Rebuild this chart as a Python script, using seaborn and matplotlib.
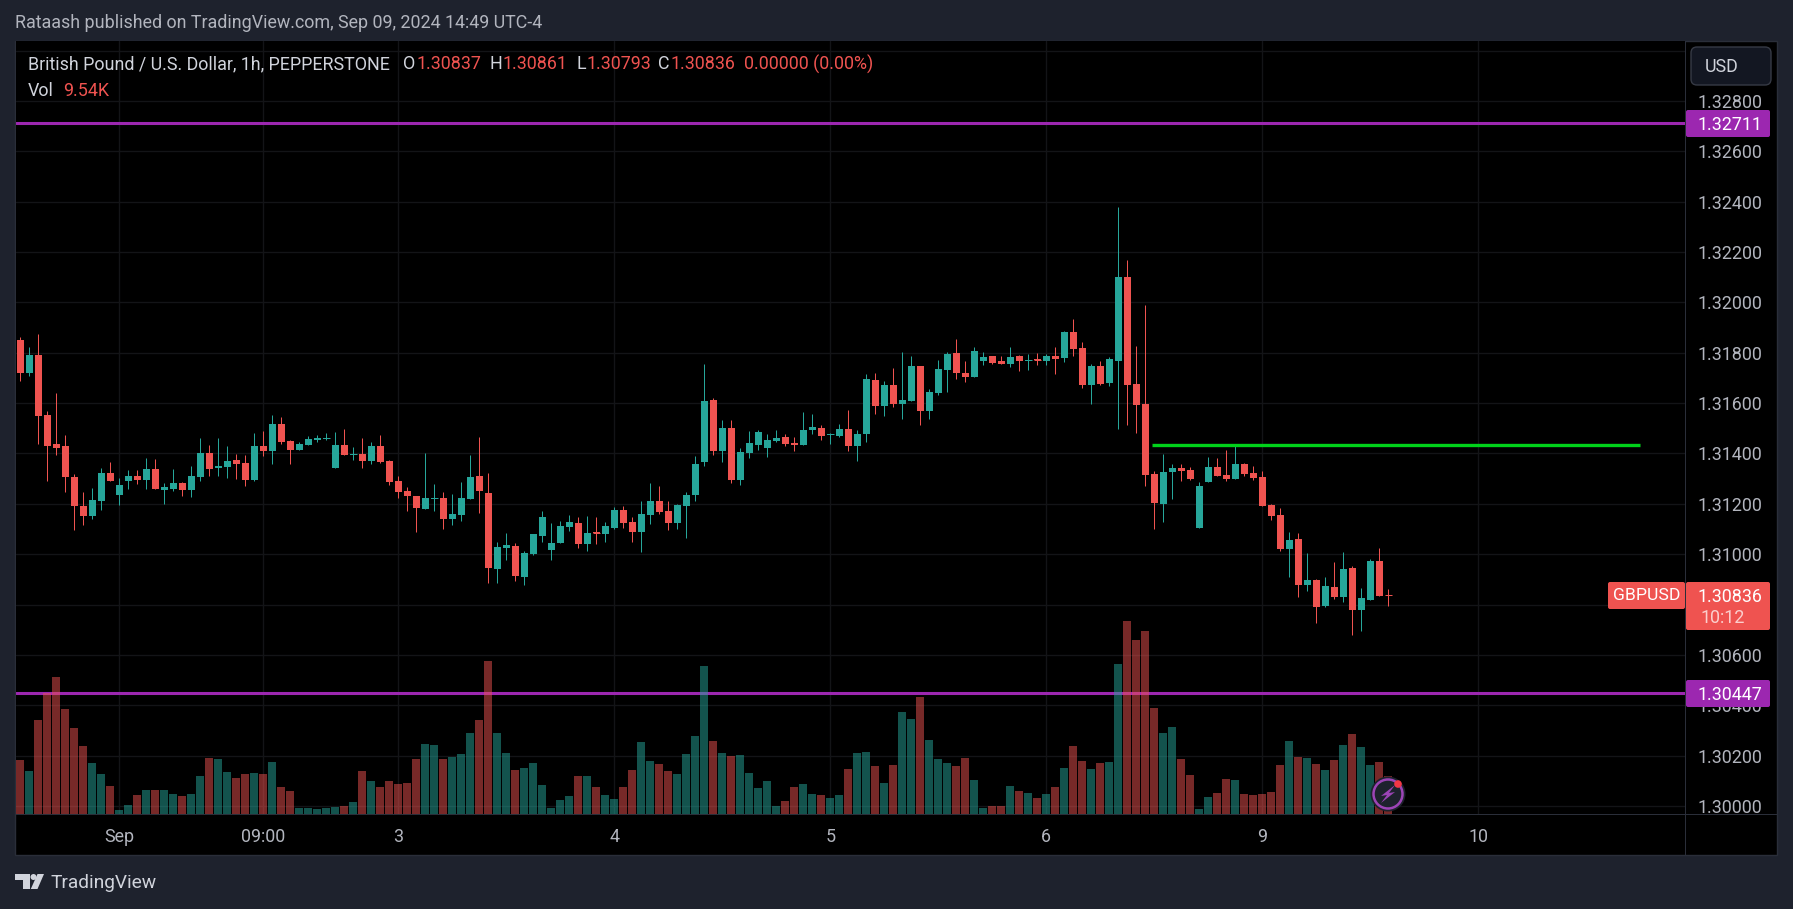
import numpy as np
import pandas as pd
import matplotlib
matplotlib.use("Agg")
import matplotlib.pyplot as plt
import seaborn as sns

from matplotlib.patches import Circle, FancyBboxPatch, Polygon, Rectangle
from matplotlib.transforms import IdentityTransform

opens = [
    1.31850, 1.31720, 1.31791, 1.31552, 1.31437, 1.31429, 1.31306, 1.31191, 1.31153, 1.31212,
    1.31322, 1.31236, 1.31292, 1.31310, 1.31294, 1.31338, 1.31254, 1.31258, 1.31282, 1.31254,
    1.31306, 1.31401, 1.31343, 1.31346, 1.31374, 1.31362, 1.31294, 1.31429, 1.31409, 1.31517,
    1.31449, 1.31413, 1.31433, 1.31453, 1.31457, 1.31342, 1.31433, 1.31393, 1.31397, 1.31370,
    1.31429, 1.31370, 1.31290, 1.31251, 1.31231, 1.31179, 1.31219, 1.31223, 1.31139, 1.31155,
    1.31219, 1.31310, 1.31243, 1.30941, 1.31024, 1.31032, 1.30909, 1.31000, 1.31072, 1.31016,
    1.31044, 1.31108, 1.31124, 1.31040, 1.31088, 1.31080, 1.31104, 1.31175, 1.31128, 1.31088,
    1.31155, 1.31211, 1.31171, 1.31124, 1.31191, 1.31235, 1.31366, 1.31612, 1.31410, 1.31501,
    1.31294, 1.31402, 1.31433, 1.31421, 1.31449, 1.31465, 1.31441, 1.31433, 1.31493, 1.31501,
    1.31473, 1.31469, 1.31497, 1.31429, 1.31477, 1.31691, 1.31588, 1.31672, 1.31596, 1.31608,
    1.31747, 1.31568, 1.31640, 1.31731, 1.31799, 1.31719, 1.31703, 1.31767, 1.31787, 1.31767,
    1.31755, 1.31787, 1.31767, 1.31775, 1.31767, 1.31787, 1.31779, 1.31882, 1.31819, 1.31672,
    1.31747, 1.31680, 1.31767, 1.32101, 1.31676, 1.31596, 1.31318, 1.31199, 1.31326, 1.31342,
    1.31334, 1.31104, 1.31286, 1.31346, 1.31314, 1.31298, 1.31358, 1.31322, 1.31306, 1.31195,
    1.31155, 1.31020, 1.31060, 1.30877, 1.30897, 1.30794, 1.30869, 1.30830, 1.30945, 1.30778,
    1.30818, 1.30973, 1.30837,
]
closes = [
    1.31720, 1.31791, 1.31550, 1.31431, 1.31423, 1.31307, 1.31192, 1.31153, 1.31215, 1.31322,
    1.31292, 1.31274, 1.31310, 1.31294, 1.31338, 1.31258, 1.31266, 1.31282, 1.31254, 1.31310,
    1.31401, 1.31338, 1.31350, 1.31370, 1.31358, 1.31294, 1.31429, 1.31409, 1.31517, 1.31445,
    1.31413, 1.31437, 1.31457, 1.31461, 1.31461, 1.31433, 1.31393, 1.31397, 1.31370, 1.31429,
    1.31366, 1.31286, 1.31247, 1.31231, 1.31183, 1.31223, 1.31223, 1.31139, 1.31159, 1.31223,
    1.31306, 1.31251, 1.30945, 1.31028, 1.31036, 1.30913, 1.31004, 1.31080, 1.31147, 1.31044,
    1.31112, 1.31128, 1.31040, 1.31084, 1.31084, 1.31112, 1.31175, 1.31124, 1.31088, 1.31159,
    1.31211, 1.31167, 1.31124, 1.31195, 1.31235, 1.31358, 1.31608, 1.31410, 1.31501, 1.31294,
    1.31406, 1.31441, 1.31485, 1.31453, 1.31461, 1.31437, 1.31433, 1.31493, 1.31505, 1.31469,
    1.31477, 1.31497, 1.31429, 1.31477, 1.31695, 1.31588, 1.31672, 1.31596, 1.31612, 1.31747,
    1.31568, 1.31644, 1.31735, 1.31795, 1.31719, 1.31703, 1.31807, 1.31783, 1.31759, 1.31755,
    1.31783, 1.31767, 1.31771, 1.31771, 1.31787, 1.31775, 1.31882, 1.31815, 1.31672, 1.31747,
    1.31676, 1.31775, 1.32101, 1.31672, 1.31592, 1.31314, 1.31203, 1.31326, 1.31342, 1.31330,
    1.31298, 1.31271, 1.31346, 1.31310, 1.31298, 1.31358, 1.31318, 1.31302, 1.31191, 1.31151,
    1.31020, 1.31056, 1.30877, 1.30897, 1.30790, 1.30873, 1.30830, 1.30941, 1.30778, 1.30826,
    1.30973, 1.30834, 1.30836,
]
highs = [
    1.31862, 1.31822, 1.31874, 1.31568, 1.31640, 1.31473, 1.31318, 1.31247, 1.31262, 1.31342,
    1.31366, 1.31302, 1.31334, 1.31334, 1.31382, 1.31378, 1.31282, 1.31338, 1.31286, 1.31350,
    1.31461, 1.31433, 1.31461, 1.31429, 1.31397, 1.31393, 1.31480, 1.31489, 1.31552, 1.31544,
    1.31453, 1.31445, 1.31469, 1.31473, 1.31481, 1.31485, 1.31497, 1.31425, 1.31461, 1.31445,
    1.31473, 1.31374, 1.31310, 1.31266, 1.31231, 1.31401, 1.31278, 1.31247, 1.31239, 1.31285,
    1.31394, 1.31465, 1.31322, 1.31048, 1.31084, 1.31044, 1.31012, 1.31080, 1.31171, 1.31124,
    1.31132, 1.31155, 1.31147, 1.31151, 1.31147, 1.31128, 1.31187, 1.31191, 1.31147, 1.31211,
    1.31282, 1.31271, 1.31211, 1.31199, 1.31247, 1.31390, 1.31755, 1.31620, 1.31533, 1.31533,
    1.31421, 1.31489, 1.31493, 1.31477, 1.31493, 1.31477, 1.31465, 1.31564, 1.31556, 1.31513,
    1.31481, 1.31517, 1.31572, 1.31493, 1.31715, 1.31719, 1.31687, 1.31739, 1.31801, 1.31787,
    1.31747, 1.31656, 1.31771, 1.31803, 1.31854, 1.31767, 1.31823, 1.31803, 1.31787, 1.31787,
    1.31823, 1.31791, 1.31795, 1.31799, 1.31795, 1.31823, 1.31886, 1.31934, 1.31842, 1.31755,
    1.31767, 1.31783, 1.32378, 1.32168, 1.31827, 1.31989, 1.31330, 1.31398, 1.31358, 1.31358,
    1.31346, 1.31286, 1.31386, 1.31382, 1.31414, 1.31429, 1.31362, 1.31350, 1.31330, 1.31199,
    1.31183, 1.31088, 1.31084, 1.31004, 1.30901, 1.30909, 1.30969, 1.31008, 1.30953, 1.30865,
    1.30981, 1.31024, 1.30861,
]
lows = [
    1.31687, 1.31709, 1.31437, 1.31290, 1.31393, 1.31247, 1.31096, 1.31116, 1.31141, 1.31175,
    1.31290, 1.31195, 1.31258, 1.31278, 1.31258, 1.31258, 1.31199, 1.31251, 1.31231, 1.31227,
    1.31290, 1.31310, 1.31310, 1.31302, 1.31298, 1.31270, 1.31290, 1.31390, 1.31358, 1.31437,
    1.31358, 1.31413, 1.31433, 1.31445, 1.31453, 1.31342, 1.31393, 1.31374, 1.31342, 1.31358,
    1.31362, 1.31274, 1.31223, 1.31171, 1.31088, 1.31179, 1.31171, 1.31100, 1.31116, 1.31132,
    1.31219, 1.31163, 1.30885, 1.30885, 1.30977, 1.30893, 1.30877, 1.30996, 1.31048, 1.30977,
    1.31044, 1.31092, 1.31024, 1.31012, 1.31040, 1.31048, 1.31100, 1.31104, 1.31048, 1.31008,
    1.31120, 1.31159, 1.31096, 1.31100, 1.31064, 1.31211, 1.31350, 1.31394, 1.31366, 1.31282,
    1.31274, 1.31382, 1.31413, 1.31386, 1.31445, 1.31429, 1.31410, 1.31433, 1.31477, 1.31453,
    1.31437, 1.31465, 1.31410, 1.31370, 1.31445, 1.31556, 1.31548, 1.31584, 1.31537, 1.31608,
    1.31513, 1.31537, 1.31632, 1.31644, 1.31695, 1.31684, 1.31703, 1.31751, 1.31755, 1.31755,
    1.31743, 1.31727, 1.31731, 1.31751, 1.31751, 1.31715, 1.31763, 1.31787, 1.31660, 1.31596,
    1.31672, 1.31668, 1.31497, 1.31513, 1.31481, 1.31271, 1.31100, 1.31128, 1.31219, 1.31290,
    1.31294, 1.31104, 1.31286, 1.31310, 1.31290, 1.31298, 1.31310, 1.31294, 1.31191, 1.31136,
    1.31012, 1.30909, 1.30830, 1.30854, 1.30726, 1.30790, 1.30822, 1.30810, 1.30679, 1.30695,
    1.30818, 1.30834, 1.30793,
]
# volume in thousands
volumes = [
    13.56, 10.80, 23.60, 30.38, 34.40, 26.37, 21.59, 17.07, 12.81, 10.04,
    7.03, 1.00, 2.26, 4.77, 6.03, 6.03, 6.03, 5.02, 4.52, 5.02,
    9.54, 14.06, 13.81, 10.55, 9.04, 10.04, 10.30, 10.04, 13.06, 6.78,
    5.78, 1.51, 1.51, 1.26, 1.51, 1.76, 2.01, 3.01, 10.80, 8.29,
    6.78, 8.29, 7.53, 7.78, 13.81, 17.58, 17.33, 13.81, 14.31, 15.07,
    20.34, 23.60, 38.42, 20.34, 15.32, 11.05, 11.55, 12.81, 7.28, 1.51,
    3.52, 4.52, 9.54, 9.54, 6.78, 4.77, 3.77, 6.78, 11.05, 18.08,
    13.31, 12.56, 10.80, 10.04, 15.07, 19.59, 37.16, 18.33, 15.32, 14.56,
    14.81, 10.30, 6.53, 8.29, 2.01, 3.26, 6.78, 7.53, 5.02, 4.77,
    4.02, 4.77, 11.30, 15.32, 15.57, 12.05, 7.78, 12.30, 25.61, 23.85,
    29.38, 18.58, 13.81, 12.81, 12.05, 14.06, 8.54, 1.51, 2.01, 2.01,
    7.03, 5.78, 5.27, 4.02, 5.02, 6.78, 11.55, 17.07, 13.31, 11.30,
    12.81, 13.06, 37.67, 48.46, 43.69, 45.95, 26.62, 20.34, 21.85, 13.81,
    9.79, 1.26, 4.27, 5.27, 8.79, 8.54, 5.02, 4.77, 5.02, 5.52,
    12.30, 18.33, 14.31, 14.06, 12.56, 11.05, 13.56, 17.33, 20.09, 16.82,
    12.30, 13.06, 9.54,
]

time_ticks = [11, 27, 42, 66, 90, 114, 138, 162]
time_labels = ["Sep", "09:00", "3", "4", "5", "6", "9", "10"]
price_ticks = [1.300, 1.302, 1.304, 1.306, 1.308, 1.310, 1.312, 1.314, 1.316, 1.318,
               1.320, 1.322, 1.324, 1.326, 1.328, 1.330]
hidden_price_ticks = [1.308, 1.330]  # covered by the badges in the original

resistance = 1.32711
support = 1.30447
local_level = 1.31435
local_level_span = (125.75, 180)

UP = "#26a69a"
DOWN = "#ef5350"
PURPLE = "#9c27b0"
BG = "#1e222d"
BORDER = "#2a2e39"
GRID = "#131417"
AXIS_TEXT = "#b2b5be"
LEGEND_TEXT = "#d1d4dc"
TEXT_SIZE = 12.9

W, H = 1793, 909

sns.set_theme(style="dark", rc={"axes.facecolor": "black", "figure.facecolor": BG})
plt.rcParams["font.family"] = ["Roboto", "DejaVu Sans"]

df = pd.DataFrame({"bar": np.arange(len(opens)), "open": opens, "high": highs,
                   "low": lows, "close": closes, "volume": volumes})
df["up"] = df["close"] >= df["open"]
df["body_low"] = df[["open", "close"]].min(axis=1)
df["body"] = (df["close"] - df["open"]).abs()

fig = plt.figure(figsize=(W / 100, H / 100), dpi=100)


def fx(x):
    return x / W


def fy(y):
    return 1 - y / H


def label(x, y, s, color=AXIS_TEXT, size=TEXT_SIZE, ha="left", **kw):
    fig.text(fx(x), fy(y), s, color=color, fontsize=size, ha=ha, va="center", zorder=8, **kw)


def shape(patch, zorder=5):
    patch.set_transform(IdentityTransform())
    patch.set_zorder(zorder)
    fig.add_artist(patch)


def px_box(x0, y0, x1, y1, color, edge="none", lw=0, radius=2.0, zorder=5):
    shape(FancyBboxPatch((x0 + radius, H - y1 + radius), x1 - x0 - 2 * radius, y1 - y0 - 2 * radius,
                         boxstyle=f"round,pad={radius}", facecolor=color, edgecolor=edge, linewidth=lw), zorder)


# black chart frame, behind the axes
shape(Rectangle((15, H - 855), 1762, 814, facecolor="black", edgecolor=BORDER, linewidth=1), -1)

ax = fig.add_axes([fx(15.5), fy(814), fx(1685 - 15.5), (814 - 41) / H])
vol_ax = ax.twinx()
ax.set_zorder(1)
vol_ax.set_zorder(2)
vol_ax.patch.set_visible(False)

# volume pane
sns.barplot(df, x="bar", y="volume", hue="up", palette={True: UP, False: DOWN}, dodge=False,
            native_scale=True, width=0.878, alpha=0.5, saturation=1, errorbar=None,
            linewidth=0, legend=False, ax=vol_ax)

# candles
for is_up, colour in [(True, UP), (False, DOWN)]:
    sub = df[df["up"] == is_up]
    wicks = ax.vlines(sub["bar"], sub["low"], sub["high"], color=colour, linewidth=0.72, zorder=3)
    wicks.set_snap(True)
    sns.barplot(sub, x="bar", y="body", bottom=sub["body_low"].to_numpy(), native_scale=True,
                color=colour, saturation=1, width=0.78, errorbar=None, linewidth=0, ax=ax, zorder=4)
    # very thin bodies still show as a one pixel dash
    thin = sub[sub["body"] < 6e-5]
    dashes = ax.hlines(thin["close"], thin["bar"] - 0.39, thin["bar"] + 0.39, color=colour, linewidth=0.72, zorder=4)
    dashes.set_snap(True)

ax.axhline(resistance, color=PURPLE, linewidth=2.2, zorder=2)
ax.axhline(support, color=PURPLE, linewidth=2.2, zorder=2)
ax.hlines(local_level, *local_level_span, color="#00d21a", linewidth=2.4, zorder=5)

ax.set_xlim((15.5 - 20.25) / 9, (1685 - 20.25) / 9)
ax.set_ylim(1.3 + (806 - 814) * 3.971e-5, 1.3 + (806 - 41) * 3.971e-5)
vol_ax.set_ylim(0, (814 - 41) / 3.982)

ax.set_xlabel("")
ax.set_ylabel("")
vol_ax.set_xlabel("")
vol_ax.set_ylabel("")
vol_ax.set_yticks([])
vol_ax.grid(False)

ax.set_axisbelow(True)
ax.grid(True, color=GRID, linewidth=1)
ax.set_xticks(time_ticks, time_labels)
ax.set_yticks(price_ticks)
ax.set_yticklabels(["" if p in hidden_price_ticks else f"{p:.5f}" for p in price_ticks])
ax.yaxis.tick_right()
ax.tick_params(axis="y", length=0, pad=55.5, labelcolor=AXIS_TEXT, labelsize=TEXT_SIZE, labelright=True, labelleft=False)
for t in ax.get_yticklabels():
    t.set_ha("right")
ax.tick_params(axis="x", length=0, pad=10, labelcolor=AXIS_TEXT, labelsize=TEXT_SIZE)

for a in (ax, vol_ax):
    for s in a.spines.values():
        s.set_visible(False)

# separators between the panes
shape(Rectangle((1685, H - 855), 1, 814, facecolor=BORDER, edgecolor="none"), 4)
shape(Rectangle((15, H - 815), 1762, 1, facecolor=BORDER, edgecolor="none"), 4)

# header and legend
label(15, 23, "Rataash published on TradingView.com, Sep 09, 2024 14:49 UTC-4")
label(27.5, 64, "British Pound / U.S. Dollar, 1h, PEPPERSTONE", LEGEND_TEXT)
for x, s in [(403, "O"), (490, "H"), (576, "L"), (658, "C")]:
    label(x, 64, s, LEGEND_TEXT)
for x, s in [(416, "1.30837"), (503, "1.30861"), (586, "1.30793"), (671, "1.30836"), (744, "0.00000 (0.00%)")]:
    label(x, 64, s, DOWN)
label(27.5, 90.5, "Vol", LEGEND_TEXT)
label(63, 90.5, "9.54K", DOWN)

# price scale badges
px_box(1691, 47, 1771, 85, "#131722", edge="#363a45", lw=1, radius=6)
label(1705, 66.5, "USD", LEGEND_TEXT)
px_box(1686, 110, 1770, 137, PURPLE)
label(1762, 124.5, "1.32711", "white", ha="right")
px_box(1686, 680, 1770, 707, PURPLE)
label(1762, 694.5, "1.30447", "white", ha="right")
px_box(1608, 582, 1685, 609, DOWN)
label(1613, 596, "GBPUSD", "white", size=12.6)
px_box(1686, 582, 1770, 630, DOWN)
label(1762, 597, "1.30836", "white", ha="right")
label(1700, 618, "10:12", "#fbcfcd")

# lightning badge
cx, cy = 1388, H - 794
shape(Circle((cx, cy), 17.5, facecolor="#1e222d", edgecolor="none"), 6)
shape(Circle((cx, cy), 14.5, facecolor="#1e222d", edgecolor="#9c44b6", linewidth=1.8), 6)
shape(Polygon([(cx + 7, cy + 9), (cx - 7, cy - 2), (cx - 1, cy - 1), (cx - 7, cy - 9),
               (cx + 7, cy + 2), (cx + 1, cy + 1)], closed=True, facecolor="#9c44b6", edgecolor="none"), 7)
shape(Circle((1398, H - 784), 3.8, facecolor="#f23645", edgecolor="none"), 7)

# TradingView logo
LOGO = "#d1d4dc"
shape(Polygon([(15, H - 874), (30, H - 874), (30, H - 889), (22.5, H - 889), (22.5, H - 880), (15, H - 880)],
              closed=True, facecolor=LOGO, edgecolor="none"))
shape(Circle((33.5, H - 877), 3, facecolor=LOGO, edgecolor="none"))
shape(Polygon([(37.5, H - 874), (44, H - 874), (37.5, H - 889), (30.8, H - 889)],
              closed=True, facecolor=LOGO, edgecolor="none"))
label(50, 883, "TradingView", LOGO, size=13.8)

fig.savefig("out.png", dpi=100, facecolor=BG)
